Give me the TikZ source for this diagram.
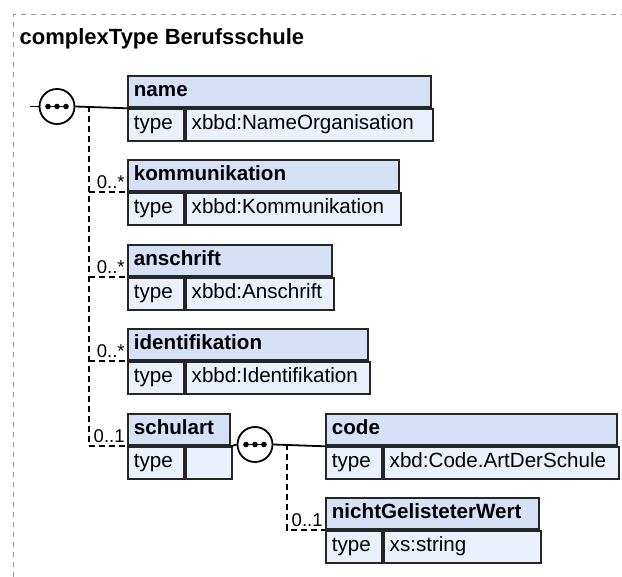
\documentclass[tikz,border=0pt]{standalone}
\usepackage{fontspec}
\setmainfont{Liberation Sans}
\usetikzlibrary{positioning, calc}

\definecolor{headfill}{RGB}{213,225,247}
\definecolor{rowfill}{RGB}{234,241,252}
\definecolor{framegray}{RGB}{150,150,150}

\begin{document}
\begin{tikzpicture}[x=1pt, y=-1pt,
    elembox/.style={draw=black!85, line width=1.8pt, minimum height=31.5pt,
      inner xsep=6pt, inner ysep=0pt, text height=14.5pt, text depth=4.5pt,
      anchor=north west, font=\fontsize{20.6}{23}\selectfont},
    head/.style={elembox, fill=headfill, font=\fontsize{20.6}{23}\selectfont\bfseries},
    cell/.style={elembox, fill=rowfill},
    seq/.style={circle, draw, fill=white, line width=1.8pt, minimum size=35pt, inner sep=0pt,
      path picture={
        \draw[black, line width=1.4pt] ([xshift=-11pt]path picture bounding box.center)
          -- ([xshift=11pt]path picture bounding box.center);
        \foreach \dx in {-9,0,9}
          \fill[black] ([xshift=\dx pt]path picture bounding box.center) circle (2.8pt);
      }},
    req/.style={line width=1.8pt},
    opt/.style={line width=1.8pt, dash pattern=on 6pt off 4pt},
    card/.style={font=\fontsize{18.5}{20}\selectfont, inner xsep=1.5pt, inner ysep=2.5pt, anchor=south east}]

  \useasboundingbox (0,0) rectangle (622,577);

  % outer frame and title
  \draw[framegray, line width=1pt, dash pattern=on 5pt off 5pt] (13,577) -- (13,15) -- (622,15);
  \node[anchor=base west, inner sep=0pt, font=\fontsize{22}{26}\selectfont\bfseries] (title) at (19.5,45) {complexType Berufsschule};

  % elements of the first sequence
  \foreach \elname/\ytop/\bw/\nm/\ty in {name/75/303/name/xbbd:NameOrganisation,
      komm/159/271/kommunikation/xbbd:Kommunikation,
      anschr/244/204/anschrift/xbbd:Anschrift,
      ident/328/240/identifikation/xbbd:Identifikation}{
    \pgfmathsetmacro\hw{\bw-12}
    \pgfmathsetmacro\vw{\bw-68}
    \node[head, text width=\hw pt] (\elname) at (127,\ytop) {\nm};
    \node[cell, text width=44pt] (\elname-k) at (\elname.south west) {type};
    \node[cell, text width=\vw pt] (\elname-v) at (\elname-k.north east) {\ty};
  }

  \node[head, text width=90pt] (schul) at (127,413) {schulart};
  \node[cell, text width=44pt] (schul-k) at (schul.south west) {type};
  \node[cell, text width=34pt] (schul-v) at (schul-k.north east) {};

  % elements of the inner sequence
  \node[head, text width=279pt] (code) at (325,413) {code};
  \node[cell, text width=44pt] (code-k) at (code.south west) {type};
  \node[cell, text width=223pt] (code-v) at (code-k.north east) {xbd:Code.ArtDerSchule};

  \node[head, text width=201pt] (nicht) at (325,497) {nichtGelisteterWert};
  \node[cell, text width=44pt] (nicht-k) at (nicht.south west) {type};
  \node[cell, text width=145pt] (nicht-v) at (nicht-k.north east) {xs:string};

  % first sequence
  \coordinate (inA) at (30,106.5);
  \node[seq] (seqA) at (57,106.5) {};
  \coordinate (forkA) at (89,106.5);
  \draw[req] (inA) -- (seqA.west);
  \draw[req] (seqA.east) -- (name.south west);
  \draw[opt] (forkA) -- (forkA |- schul.south west);
  \foreach \elname/\cnt in {komm/0..*, anschr/0..*, ident/0..*, schul/0..1}
    \draw[opt] (forkA |- \elname.south west) -- (\elname.south west) node[card] {\cnt};

  % inner sequence of schulart
  \node[seq] (seqB) at (255,444.5) {};
  \coordinate (forkB) at (287,444.5);
  \draw[req] (schul.south east) -- (seqB.west);
  \draw[req] (seqB.east) -- (code.south west);
  \draw[opt] (forkB) |- (nicht.south west) node[card] {0..1};
\end{tikzpicture}
\end{document}
